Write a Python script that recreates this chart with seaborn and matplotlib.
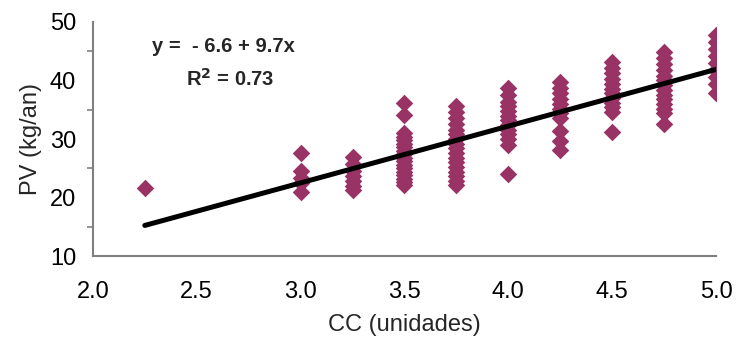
import numpy as np
import pandas as pd
import matplotlib
matplotlib.use("Agg")
import matplotlib.pyplot as plt
from matplotlib.ticker import MultipleLocator, FormatStrFormatter
import seaborn as sns

# Body condition score (CC) levels and live weight (PV, kg/an) observed at each
cc_levels = [2.25, 3.0, 3.25, 3.5, 3.75, 4.0, 4.25, 4.5, 4.75, 5.0]
pv_225 = [21.7]
pv_300 = [27.6, 24.6, 23.4, 22.4, 21.0]
pv_325 = [27.0, 25.8, 24.6, 23.6, 22.8, 22.0, 21.3]
pv_350 = [36.1, 34.1, 31.0, 30.4, 29.8, 29.2, 28.6, 28.0, 27.4, 26.8, 26.2,
          25.6, 25.0, 24.4, 23.8, 23.2, 22.6, 22.2]
pv_375 = [35.6, 34.6, 33.6, 32.6, 31.6, 30.8, 30.0, 29.2, 28.4, 27.6, 26.8,
          26.0, 25.2, 24.4, 23.6, 22.8, 22.2]
pv_400 = [38.8, 37.6, 36.4, 35.6, 34.8, 34.0, 33.2, 32.4, 31.6, 30.8, 30.0,
          29.0, 24.0]
pv_425 = [39.8, 38.8, 37.8, 36.8, 36.0, 35.2, 34.4, 33.6, 31.4, 29.6, 28.2]
pv_450 = [43.2, 42.2, 41.2, 40.2, 39.4, 38.6, 37.8, 37.0, 36.2, 35.4, 34.6, 31.2]
pv_475 = [44.8, 43.8, 42.8, 41.8, 40.8, 40.0, 39.2, 38.4, 37.6, 36.8, 36.0,
          35.2, 34.4, 32.6]
pv_500 = [47.8, 46.6, 45.4, 44.2, 43.0, 41.8, 40.6, 39.4, 37.8]

# Fitted linear model
intercept = -6.6
slope = 9.7
r_squared = 0.73

x_ticks = [2.0, 2.5, 3.0, 3.5, 4.0, 4.5, 5.0]
y_ticks = [10, 20, 30, 40, 50]

groups = [pv_225, pv_300, pv_325, pv_350, pv_375, pv_400, pv_425, pv_450,
          pv_475, pv_500]
df = pd.DataFrame({
    "cc": np.concatenate([[c] * len(g) for c, g in zip(cc_levels, groups)]),
    "pv": np.concatenate(groups),
})

fit_x = np.array([min(cc_levels), max(cc_levels)])
fit = pd.DataFrame({"cc": fit_x, "pv": intercept + slope * fit_x})

sns.set_style("white")
plt.rcParams["font.family"] = ["Liberation Sans", "DejaVu Sans"]

fig = plt.figure(figsize=(7.37, 3.43), dpi=100)
ax = fig.add_axes([0.126, 0.2536, 0.8455, 0.6823])

sns.scatterplot(data=df, x="cc", y="pv", marker="D", s=80, color="#993366",
                linewidth=0, ax=ax, zorder=2)
sns.lineplot(data=fit, x="cc", y="pv", color="black", linewidth=3.6, ax=ax,
             zorder=3)

ax.set_xlim(2.0, 5.0)
ax.set_ylim(10, 50)
ax.set_xticks(x_ticks)
ax.set_yticks(y_ticks)
ax.xaxis.set_major_formatter(FormatStrFormatter("%.1f"))
ax.yaxis.set_minor_locator(MultipleLocator(5))

for side in ("top", "right"):
    ax.spines[side].set_visible(False)
for side in ("left", "bottom"):
    ax.spines[side].set_color("#808080")
    ax.spines[side].set_linewidth(1.5)

ax.tick_params(axis="both", which="both", direction="out", color="#808080",
               width=1.2, labelsize=17, labelcolor="black")
ax.tick_params(axis="x", which="major", length=6, pad=12)
ax.tick_params(axis="y", which="major", length=6, pad=6)
ax.tick_params(axis="y", which="minor", length=4, left=True)

ax.set_xlabel("CC (unidades)", fontsize=17, labelpad=8)
ax.set_ylabel("PV (kg/an)", fontsize=17, labelpad=6)

ax.text(0.095, 0.895, f"y =  - {abs(intercept):.1f} + {slope:.1f}x",
        transform=ax.transAxes, ha="left", va="center", fontsize=14.5,
        fontweight="bold")
ax.text(0.22, 0.755, f"R$^\\mathbf{{2}}$ = {r_squared:.2f}",
        transform=ax.transAxes, ha="center", va="center", fontsize=14.5,
        fontweight="bold")

fig.savefig("out.png", dpi=100)
